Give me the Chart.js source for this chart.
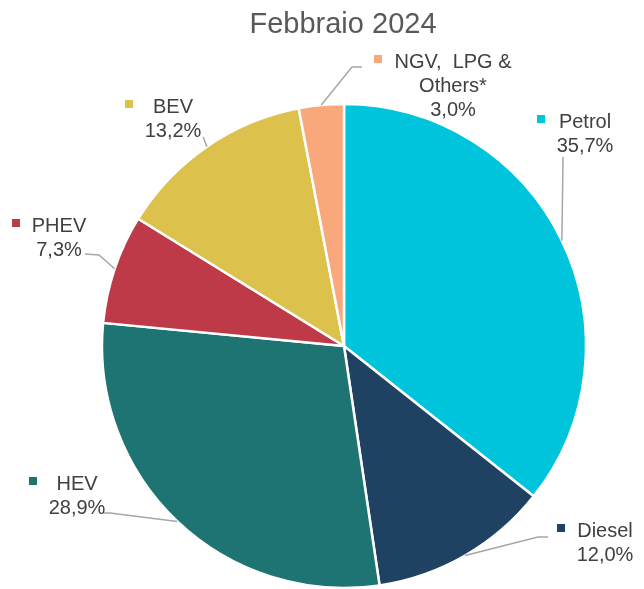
<!DOCTYPE html>
<html>
<head>
<meta charset="utf-8">
<script src="https://cdn.jsdelivr.net/npm/chart.js@4/dist/chart.umd.min.js"></script>
<style>
  html, body { margin: 0; padding: 0; background: #ffffff; }
  #wrap { width: 644px; height: 589px; position: relative; }
</style>
</head>
<body>
<div id="wrap"><canvas id="c" width="644" height="589"></canvas></div>
<script>
// ---- data ----
const chartTitle = 'Febbraio 2024';
const categories = ['Petrol', 'Diesel', 'HEV', 'PHEV', 'BEV', 'NGV, LPG & Others*'];
const labelNames = [['Petrol'], ['Diesel'], ['HEV'], ['PHEV'], ['BEV'], ['NGV,  LPG &', 'Others*']];
const shares = [35.7, 12.0, 28.9, 7.3, 13.2, 3.0];

// ---- styles / layout (not data) ----
const sliceColors = ['#00C4DC', '#1F4262', '#1E7373', '#BE3A48', '#DCC24C', '#F9A87C'];
const labelFont = '20px "Liberation Sans", Arial, sans-serif';
const titleFont = '29px "Liberation Sans", Arial, sans-serif';
const textColor = '#404040';
const titleColor = '#595959';
const leaderColor = '#A6A6A6';
// label centre x, first baseline y, leader path (label side first)
const labelLayout = [
  { cx: 585, by: 128, path: [[563, 157], [563, 160]] },
  { cx: 605, by: 537, path: [[548, 537], [538, 537]] },
  { cx: 77,  by: 490, path: [[103, 513], [110, 513]] },
  { cx: 59,  by: 232, path: [[85, 254], [99, 255]] },
  { cx: 173, by: 113, path: [[203, 137], [204, 139]] },
  { cx: 453, by: 68,  path: [[362, 67], [352, 67]] }
];
const lineHeight = 24;

function fmt(v) { return v.toFixed(1).replace('.', ',') + '%'; }

const labelPlugin = {
  id: 'outLabels',
  afterDatasetsDraw(chart) {
    const ctx = chart.ctx;
    const meta = chart.getDatasetMeta(0);
    ctx.save();
    // title
    ctx.font = titleFont;
    ctx.fillStyle = titleColor;
    ctx.textAlign = 'center';
    ctx.textBaseline = 'alphabetic';
    ctx.fillText(chartTitle, 343, 33);

    ctx.font = labelFont;
    meta.data.forEach((arc, i) => {
      const p = arc.getProps(['x', 'y', 'startAngle', 'endAngle', 'outerRadius'], true);
      const mid = (p.startAngle + p.endAngle) / 2;
      const ex = p.x + Math.cos(mid) * p.outerRadius;
      const ey = p.y + Math.sin(mid) * p.outerRadius;
      const L = labelLayout[i];
      // leader line
      ctx.strokeStyle = leaderColor;
      ctx.lineWidth = 1.5;
      ctx.beginPath();
      ctx.moveTo(L.path[0][0], L.path[0][1]);
      for (let k = 1; k < L.path.length; k++) ctx.lineTo(L.path[k][0], L.path[k][1]);
      ctx.lineTo(ex, ey);
      ctx.stroke();
      // text
      const lines = labelNames[i].concat([fmt(shares[i])]);
      let maxW = 0;
      lines.forEach(t => { maxW = Math.max(maxW, ctx.measureText(t).width); });
      ctx.fillStyle = textColor;
      ctx.textAlign = 'center';
      lines.forEach((t, k) => ctx.fillText(t, L.cx, L.by + k * lineHeight));
      // legend key square
      ctx.fillStyle = sliceColors[i];
      ctx.fillRect(Math.round(L.cx - maxW / 2 - 20), L.by - 13, 8, 8);
    });
    ctx.restore();
  }
};

new Chart(document.getElementById('c'), {
  type: 'pie',
  data: {
    labels: categories,
    datasets: [{
      data: shares,
      backgroundColor: sliceColors,
      borderColor: '#ffffff',
      borderWidth: 2.5,
      hoverOffset: 0
    }]
  },
  options: {
    responsive: false,
    animation: false,
    radius: 242,
    layout: { padding: { left: 44, right: 0, top: 103, bottom: 0 } },
    plugins: {
      legend: { display: false },
      title: { display: false },
      tooltip: { enabled: false }
    }
  },
  plugins: [labelPlugin]
});
</script>
</body>
</html>
